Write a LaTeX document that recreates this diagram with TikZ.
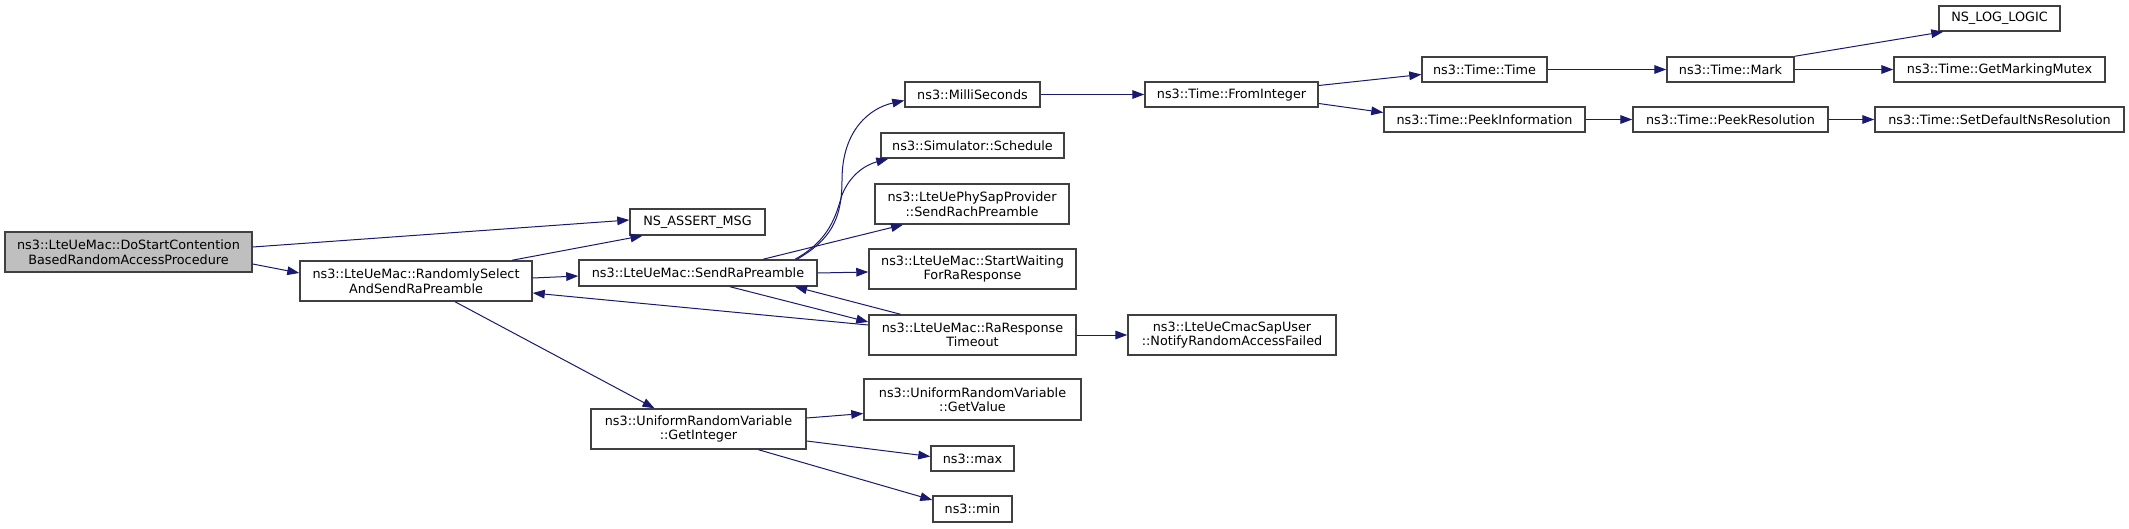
\documentclass[tikz,border=0pt]{standalone}
\usepackage{fontspec}
\setmainfont{DejaVu Sans}
\usetikzlibrary{arrows.meta,calc}
\definecolor{edgec}{HTML}{191970}
\definecolor{boxc}{HTML}{404040}
\definecolor{rootc}{HTML}{BFBFBF}
\tikzset{
  bx/.style 2 args={draw=boxc, line width=1.1pt, fill=white, inner sep=0pt, align=center,
    minimum width=#1*0.75pt, minimum height=#2*0.75pt,
    font=\fontsize{9.6}{10.9}\selectfont},
  edge/.style={draw=edgec, line width=0.75pt, -{Triangle[length=9pt,width=6.5pt]}}
}
\begin{document}
\begin{tikzpicture}[x=0.75pt,y=-0.75pt]
\useasboundingbox[fill=white] (0,0) rectangle (2129,528);
% nodes
\node[bx={247}{40}, fill=rootc] (dostart) at (128.5,252) {ns3::LteUeMac::DoStartContention\\BasedRandomAccessProcedure};
\node[bx={135}{26}] (assert) at (697.5,222) {NS\_ASSERT\_MSG};
\node[bx={232}{40}] (randsel) at (416,281) {ns3::LteUeMac::RandomlySelect\\AndSendRaPreamble};
\node[bx={238}{26}] (sendra) at (698,273) {ns3::LteUeMac::SendRaPreamble};
\node[bx={215}{40}] (getint) at (698.5,429) {ns3::UniformRandomVariable\\::GetInteger};
\node[bx={135}{25}] (milli) at (972.5,94.5) {ns3::MilliSeconds};
\node[bx={183}{25}] (sched) at (972.5,145.5) {ns3::Simulator::Schedule};
\node[bx={194}{40}] (phy) at (972,204) {ns3::LteUePhySapProvider\\::SendRachPreamble};
\node[bx={207}{40}] (startw) at (972.5,269) {ns3::LteUeMac::StartWaiting\\ForRaResponse};
\node[bx={207}{40}] (rart) at (972.5,335) {ns3::LteUeMac::RaResponse\\Timeout};
\node[bx={217}{41}] (getval) at (972.5,399.5) {ns3::UniformRandomVariable\\::GetValue};
\node[bx={83}{25}] (max) at (972.5,458.5) {ns3::max};
\node[bx={79}{26}] (min) at (972.5,509) {ns3::min};
\node[bx={208}{40}] (notify) at (1232,335) {ns3::LteUeCmacSapUser\\::NotifyRandomAccessFailed};
\node[bx={173}{25}] (fromint) at (1231.5,94.5) {ns3::Time::FromInteger};
\node[bx={125}{25}] (timetime) at (1484.5,69.5) {ns3::Time::Time};
\node[bx={201}{25}] (peekinfo) at (1484.5,119.5) {ns3::Time::PeekInformation};
\node[bx={127}{25}] (mark) at (1730.5,69.5) {ns3::Time::Mark};
\node[bx={195}{25}] (peekres) at (1730.5,119.5) {ns3::Time::PeekResolution};
\node[bx={121}{25}] (nslog) at (1999.5,18.5) {NS\_LOG\_LOGIC};
\node[bx={211}{25}] (mutex) at (1999.5,69.5) {ns3::Time::GetMarkingMutex};
\node[bx={249}{25}] (setdef) at (1999.5,119.5) {ns3::Time::SetDefaultNsResolution};
% edges
\draw[edge] ($(dostart.east)+(0,-5)$) -- ($(assert.west)+(0,-2)$);
\draw[edge] ($(dostart.east)+(0,12)$) -- ($(randsel.west)+(0,-8)$);
\draw[edge] ($(randsel.north)+(96,0)$) -- ($(assert.south)+(-55,0)$);
\draw[edge] ($(randsel.east)+(0,-3)$) -- ($(sendra.west)+(0,3)$);
\draw[edge] ($(rart.west)+(0,-10)$) -- ($(randsel.east)+(0,12)$);
\draw[edge] ($(randsel.south)+(39,0)$) -- ($(getint.north)+(-44,0)$);
\draw[edge] ($(sendra.north)+(99,0)$) .. controls (830,240) and (842,220) .. (842,180) .. controls (842,130) and (870,108) .. ($(milli.west)+(0,6)$);
\draw[edge] ($(sendra.north)+(97,0)$) .. controls (830,240) and (836,215) .. (842,195) .. controls (850,175) and (865,165) .. ($(sched.south west)+(8,0)$);
\draw[edge] ($(sendra.north)+(65,0)$) -- ($(phy.south)+(-69,0)$);
\draw[edge] (sendra.east) -- ($(startw.west)+(0,3)$);
\draw[edge] ($(sendra.south)+(32,0)$) -- ($(rart.west)+(0,-13)$);
\draw[edge] ($(rart.north)+(-72,0)$) -- ($(sendra.south)+(97,0)$);
\draw[edge] (rart.east) -- (notify.west);
\draw[edge] ($(getint.east)+(0,-11)$) -- ($(getval.west)+(0,14)$);
\draw[edge] ($(getint.east)+(0,12)$) -- ($(max.west)+(0,-2)$);
\draw[edge] ($(getint.south)+(60,0)$) -- ($(min.west)+(0,-9)$);
\draw[edge] (milli.east) -- (fromint.west);
\draw[edge] ($(fromint.east)+(0,-9)$) -- ($(timetime.west)+(0,5)$);
\draw[edge] ($(fromint.east)+(0,9)$) -- ($(peekinfo.west)+(0,-7)$);
\draw[edge] (timetime.east) -- (mark.west);
\draw[edge] (mark.north east) -- ($(nslog.south west)+(5,0)$);
\draw[edge] (mark.east) -- (mutex.west);
\draw[edge] (peekinfo.east) -- (peekres.west);
\draw[edge] (peekres.east) -- (setdef.west);
\end{tikzpicture}
\end{document}
